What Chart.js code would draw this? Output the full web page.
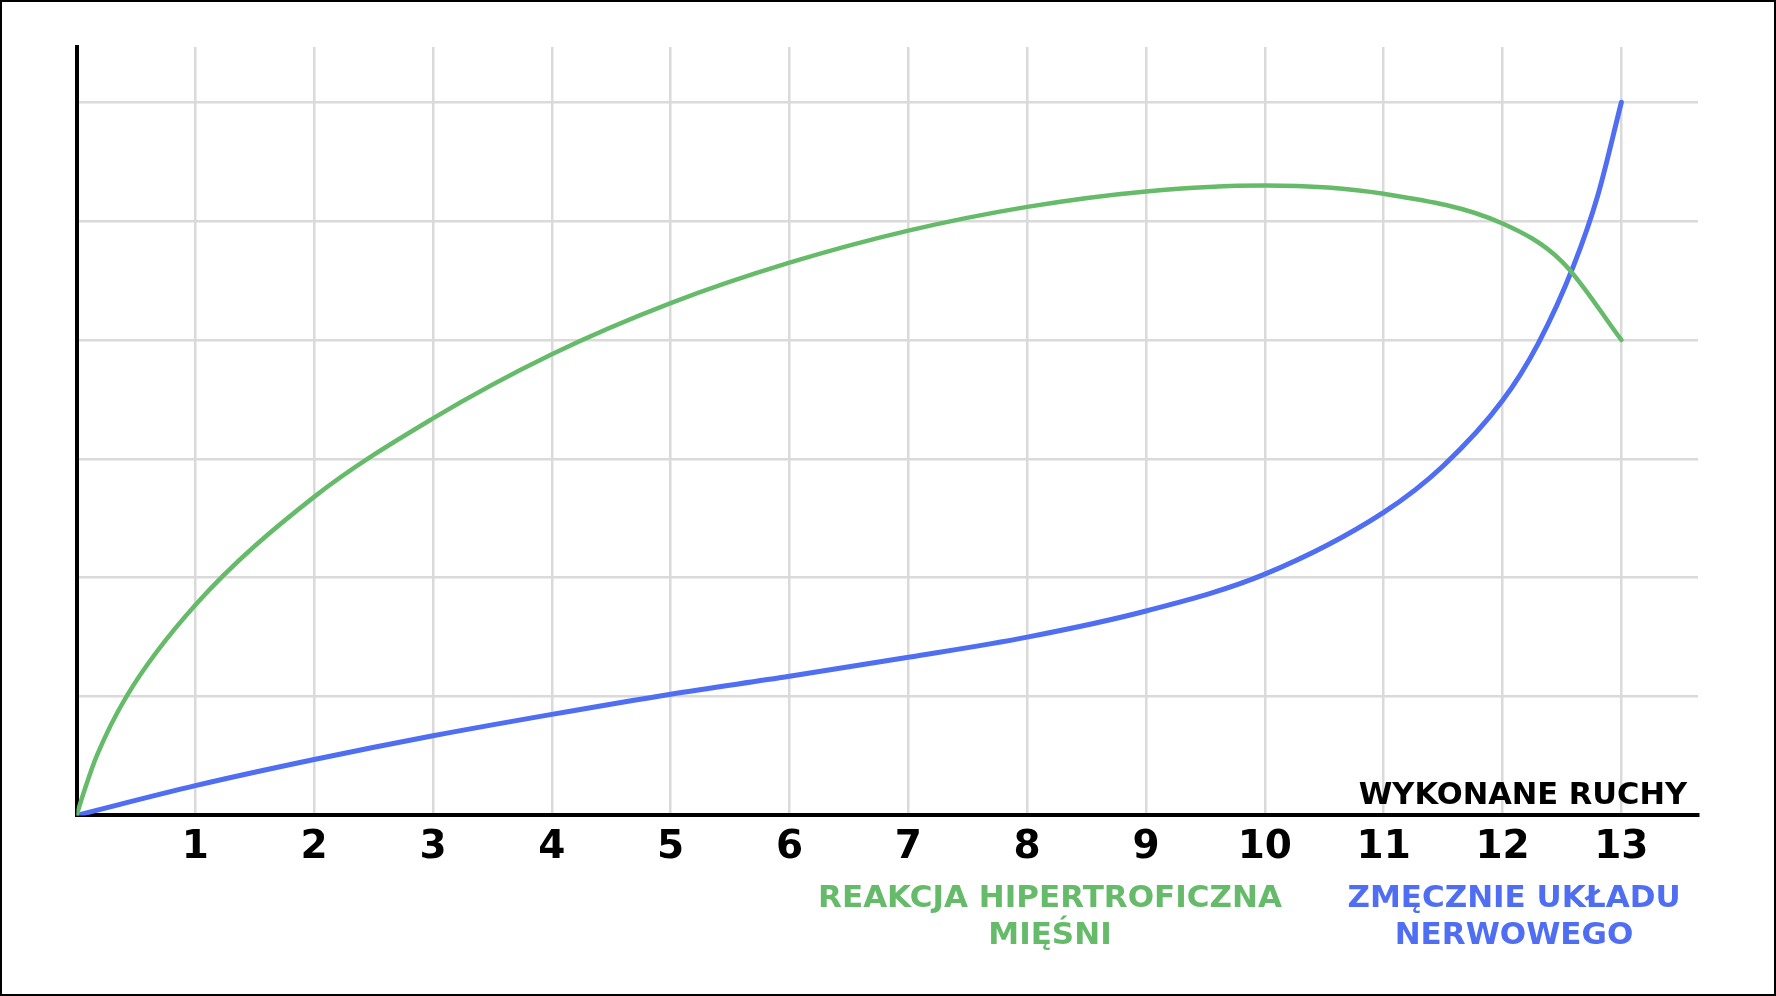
<!DOCTYPE html>
<html>
<head>
<meta charset="utf-8">
<script src="https://cdn.jsdelivr.net/npm/chart.js@4/dist/chart.umd.min.js"></script>
<style>
  html, body { margin: 0; padding: 0; background: #fff; }
  #wrap { position: relative; width: 1776px; height: 996px; overflow: hidden; }
  #frame { position: absolute; left: 0; top: 0; width: 1776px; height: 996px; box-sizing: border-box; border: 2px solid #000; pointer-events: none; }
  canvas { position: absolute; left: 0; top: 0; }
  .lbl { position: absolute; font-family: "DejaVu Sans", Verdana, sans-serif; font-weight: bold; white-space: nowrap; }
  #axisTitle { right: 89px; top: 775px; font-size: 30.5px; line-height: 38px; color: #000; text-align: right; }
  #greenLbl { left: 750px; width: 600px; top: 878px; font-size: 31px; line-height: 36.5px; color: #66bb6a; text-align: center; }
  #blueLbl { left: 1214px; width: 600px; top: 878px; font-size: 31px; line-height: 36.5px; color: #4f6ef2; text-align: center; }
</style>
</head>
<body>
<div id="wrap">
  <canvas id="c" width="1776" height="996"></canvas>
  <div id="axisTitle" class="lbl">WYKONANE RUCHY</div>
  <div id="greenLbl" class="lbl">REAKCJA HIPERTROFICZNA<br>MIĘŚNI</div>
  <div id="blueLbl" class="lbl">ZMĘCZNIE UKŁADU<br>NERWOWEGO</div>
  <div id="frame"></div>
</div>
<script>
// ---- data ----
const xTickLabels = ['1','2','3','4','5','6','7','8','9','10','11','12','13'];

const hypertrophyX = [0, 0.07, 0.17, 0.42, 1, 2, 3, 4, 5, 6, 7, 8, 9, 10, 11, 12, 12.5, 13];
const hypertrophyY = [0, 0.22, 0.5, 1.0, 1.77, 2.68, 3.34, 3.88, 4.31, 4.65, 4.92, 5.12, 5.25, 5.30, 5.23, 4.98, 4.66, 4.0];

const fatigueX = [0, 1, 2, 3, 4, 5, 6, 7, 8, 9, 10, 11, 11.5, 12, 12.3, 12.6, 12.8, 13];
const fatigueY = [0, 0.25, 0.47, 0.67, 0.85, 1.02, 1.17, 1.33, 1.50, 1.72, 2.03, 2.55, 2.94, 3.49, 3.97, 4.63, 5.21, 6.0];

const xMax = 13.645;
const yMax = 6.465;

const toPoints = (xs, ys) => xs.map((x, i) => ({ x: x, y: ys[i] }));

new Chart(document.getElementById('c'), {
  type: 'line',
  data: {
    datasets: [
      {
        label: 'REAKCJA HIPERTROFICZNA MIĘŚNI',
        data: toPoints(hypertrophyX, hypertrophyY),
        borderColor: '#66bb6a',
        borderWidth: 4.5,
        pointRadius: 0,
        fill: false,
        cubicInterpolationMode: 'monotone',
        borderCapStyle: 'round'
      },
      {
        label: 'ZMĘCZNIE UKŁADU NERWOWEGO',
        data: toPoints(fatigueX, fatigueY),
        borderColor: '#4f6ef2',
        borderWidth: 5,
        pointRadius: 0,
        fill: false,
        cubicInterpolationMode: 'monotone',
        borderCapStyle: 'round'
      }
    ]
  },
  options: {
    responsive: false,
    animation: false,
    events: [],
    layout: { padding: { left: 76.5, right: 78, top: 47, bottom: 115.8 } },
    plugins: { legend: { display: false }, tooltip: { enabled: false } },
    scales: {
      x: {
        type: 'linear',
        min: 0,
        max: xMax,
        grid: { color: '#dadada', lineWidth: 2.5, drawTicks: false },
        border: { color: '#000', width: 4 },
        ticks: {
          stepSize: 1,
          includeBounds: false,
          autoSkip: false,
          maxRotation: 0,
          padding: 9,
          color: '#000',
          font: { family: '"DejaVu Sans", Verdana, sans-serif', size: 39, weight: 'bold' },
          callback: (v) => (v >= 1 && Number.isInteger(v)) ? xTickLabels[v - 1] : ''
        }
      },
      y: {
        type: 'linear',
        min: 0,
        max: yMax,
        grid: { color: '#dadada', lineWidth: 2.5, drawTicks: false },
        border: { color: '#000', width: 4 },
        ticks: { display: false, stepSize: 1, includeBounds: false }
      }
    }
  }
});
</script>
</body>
</html>
